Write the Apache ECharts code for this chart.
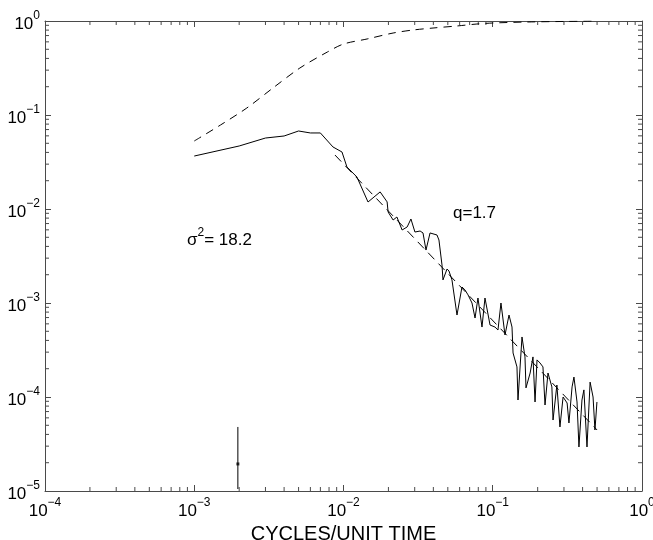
<!DOCTYPE html>
<html>
<head>
<meta charset="utf-8">
<script src="https://cdn.jsdelivr.net/npm/echarts@6/dist/echarts.min.js"></script>
<style>
  html, body { margin: 0; padding: 0; background: #fff; }
  #chart { width: 653px; height: 540px; }
</style>
</head>
<body>
<div id="chart"></div>
<script>
// tick label exponents (decades)
var xTickExp = [-4, -3, -2, -1, 0];
var yTickExp = [-5, -4, -3, -2, -1, 0];

// upper dashed curve (cumulative)
var cumFreq = [0.001, 0.0015, 0.00225, 0.00337, 0.0051, 0.0078, 0.01, 0.0144, 0.0215, 0.0292, 0.0398, 0.0575, 0.0783, 0.1, 0.17, 0.316, 0.5];
var cumVal  = [0.0529, 0.0783, 0.1187, 0.194, 0.316, 0.468, 0.569, 0.644, 0.745, 0.802, 0.842, 0.885, 0.929, 0.952, 0.976, 0.99, 1.0];

// spectrum (solid line)
var specFreq = [0.001, 0.002, 0.003, 0.004, 0.005, 0.006, 0.007, 0.0085, 0.00977, 0.01054, 0.0123, 0.0146, 0.0176, 0.0196, 0.0199,
  0.0215, 0.0228, 0.0247, 0.0267, 0.0283, 0.0301, 0.0326, 0.0341, 0.0357, 0.038, 0.0423, 0.0436, 0.0457, 0.0464, 0.0494,
  0.0509, 0.0533, 0.0576, 0.0622, 0.0651, 0.0683, 0.0726, 0.0761, 0.0796, 0.0847, 0.0887, 0.0959, 0.1035, 0.1084, 0.1135,
  0.1208, 0.1285, 0.1346, 0.1368, 0.1453, 0.1476, 0.157, 0.1644, 0.167, 0.178, 0.186, 0.192, 0.198, 0.2074, 0.217,
  0.224, 0.2345, 0.249, 0.2535, 0.269, 0.282, 0.296, 0.315, 0.324, 0.34, 0.35, 0.367, 0.378, 0.396, 0.408,
  0.428, 0.449, 0.47, 0.484, 0.499];
var specVal = [0.0366, 0.0468, 0.0569, 0.0598, 0.0676, 0.0644, 0.0644, 0.0457, 0.0404, 0.028, 0.0219, 0.01187, 0.0152, 0.0119, 0.00929,
  0.00764, 0.00822, 0.00598, 0.00644, 0.00783, 0.00569, 0.00583, 0.00556, 0.00366, 0.00556, 0.00529, 0.00468, 0.00254, 0.00176, 0.0023,
  0.00219, 0.00176, 0.000745, 0.00148, 0.00138, 0.00122, 0.001, 0.000692, 0.00113, 0.000555, 0.00113, 0.000583, 0.000555, 0.000516, 0.001,
  0.000457, 0.000745, 0.000555, 0.000294, 0.000209, 0.0000929, 0.000435, 0.000267, 0.000125, 0.00018, 0.000267, 0.0000885, 0.000248, 0.00023, 0.000209,
  0.0000822, 0.00018, 0.000128, 0.0000569, 0.000134, 0.000048, 0.0001, 0.0000863, 0.0000529, 0.000128, 0.000163, 0.0000885, 0.0000294, 0.0000929, 0.000119,
  0.0000294, 0.000144, 0.0001, 0.0000446, 0.0000885];

// power-law fit, q = 1.7 (end points)
var fitFreq = [0.00877, 0.5];
var fitVal  = [0.0375, 0.0000446];

// error bar
var errFreq = 0.00196;
var errLow = 1.05e-5, errMid = 1.94e-5, errHigh = 4.8e-5;

function zip(a, b) {
  var out = [];
  for (var i = 0; i < a.length; i++) out.push([a[i], b[i]]);
  return out;
}

// minor tick positions 2..9 x 10^k
var minorX = [], minorY = [];
for (var k = -4; k < 0; k++) for (var m = 2; m <= 9; m++) minorX.push([m * Math.pow(10, k), 1e-5]);
for (var k2 = -5; k2 < 0; k2++) for (var m2 = 2; m2 <= 9; m2++) minorY.push([1e-4, m2 * Math.pow(10, k2)]);

var FONT = '"Liberation Sans", Arial, Helvetica, sans-serif';
var AXIS_COLOR = '#4a4a4a';

function expLabel(v) {
  var e = Math.round(Math.log(v) / Math.LN10);
  return '{b|10}{s|' + (e < 0 ? '\u2212' + (-e) : e) + '}';
}
var richLabel = {
  b: { fontSize: 17, fontFamily: FONT, color: '#000', lineHeight: 23, verticalAlign: 'bottom' },
  s: { fontSize: 12, fontFamily: FONT, color: '#000', lineHeight: 23, verticalAlign: 'top' }
};

var chart = echarts.init(document.getElementById('chart'));

var option = {
  animation: false,
  backgroundColor: '#fff',
  grid: { left: 45, right: 11, top: 21, bottom: 49, containLabel: false, outerBoundsMode: 'none' },
  xAxis: [
    {
      type: 'log', logBase: 10, min: 1e-4, max: 1,
      position: 'bottom',
      name: 'CYCLES/UNIT TIME',
      nameLocation: 'middle',
      nameGap: 26,
      nameTextStyle: { fontSize: 20, fontFamily: FONT, color: '#000', verticalAlign: 'top' },
      axisLine: { show: true, lineStyle: { color: AXIS_COLOR, width: 1 } },
      axisTick: { show: true, inside: true, length: 6, lineStyle: { color: AXIS_COLOR } },
      axisLabel: {
        margin: 6,
        formatter: function (v) {
          var e = Math.round(Math.log(v) / Math.LN10);
          return xTickExp.indexOf(e) >= 0 ? expLabel(v) : '';
        },
        rich: richLabel
      },
      splitLine: { show: false }
    },
    {
      type: 'log', logBase: 10, min: 1e-4, max: 1,
      position: 'top',
      axisLine: { show: true, lineStyle: { color: AXIS_COLOR, width: 1 } },
      axisTick: { show: true, inside: true, length: 6, lineStyle: { color: AXIS_COLOR } },
      axisLabel: { show: false },
      splitLine: { show: false }
    }
  ],
  yAxis: [
    {
      type: 'log', logBase: 10, min: 1e-5, max: 1,
      position: 'left',
      axisLine: { show: true, lineStyle: { color: AXIS_COLOR, width: 1 } },
      axisTick: { show: true, inside: true, length: 6, lineStyle: { color: AXIS_COLOR } },
      axisLabel: {
        margin: 5,
        align: 'right',
        formatter: function (v) {
          var e = Math.round(Math.log(v) / Math.LN10);
          return yTickExp.indexOf(e) >= 0 ? expLabel(v) : '';
        },
        rich: richLabel
      },
      splitLine: { show: false }
    },
    {
      type: 'log', logBase: 10, min: 1e-5, max: 1,
      position: 'right',
      axisLine: { show: true, lineStyle: { color: AXIS_COLOR, width: 1 } },
      axisTick: { show: true, inside: true, length: 6, lineStyle: { color: AXIS_COLOR } },
      axisLabel: { show: false },
      splitLine: { show: false }
    }
  ],
  graphic: [
    {
      type: 'text', left: 187, top: 227, silent: true,
      style: {
        text: '{a|\u03c3}{s|2}{a|= 18.2}',
        rich: {
          a: { fontSize: 17, fontFamily: FONT, fill: '#000', lineHeight: 22, verticalAlign: 'bottom' },
          s: { fontSize: 12, fontFamily: FONT, fill: '#000', lineHeight: 22, verticalAlign: 'top' }
        }
      }
    },
    {
      type: 'text', left: 453, top: 205, silent: true,
      style: { text: 'q=1.7', fontSize: 17, fontFamily: FONT, fill: '#000' }
    }
  ],
  series: [
    {
      name: 'cumulative', type: 'line', data: zip(cumFreq, cumVal),
      symbol: 'none', smooth: 0.3,
      lineStyle: { color: '#000', width: 1, type: [8, 6] }
    },
    {
      name: 'spectrum', type: 'line', data: zip(specFreq, specVal),
      symbol: 'none',
      lineStyle: { color: '#000', width: 1 }
    },
    {
      name: 'fit', type: 'line', data: zip(fitFreq, fitVal),
      symbol: 'none',
      lineStyle: { color: '#000', width: 1, type: [9, 6] }
    },
    {
      name: 'errorbar', type: 'line', data: [[errFreq, errLow], [errFreq, errHigh]],
      symbol: 'none',
      lineStyle: { color: '#000', width: 1 }
    },
    {
      name: 'errmid', type: 'scatter', data: [[errFreq, errMid]],
      symbol: 'rect', symbolSize: 3,
      itemStyle: { color: '#000' }
    },
    {
      name: 'minorX', type: 'custom', data: minorX, silent: true, clip: false,
      renderItem: function (params, api) {
        var p = api.coord([api.value(0), 1e-5]);
        var q = api.coord([api.value(0), 1]);
        var st = { stroke: AXIS_COLOR, lineWidth: 1 };
        return {
          type: 'group', children: [
            { type: 'line', shape: { x1: p[0], y1: p[1], x2: p[0], y2: p[1] - 4 }, style: st },
            { type: 'line', shape: { x1: q[0], y1: q[1], x2: q[0], y2: q[1] + 4 }, style: st }
          ]
        };
      }
    },
    {
      name: 'minorY', type: 'custom', data: minorY, silent: true, clip: false,
      renderItem: function (params, api) {
        var p = api.coord([1e-4, api.value(1)]);
        var q = api.coord([1, api.value(1)]);
        var st = { stroke: AXIS_COLOR, lineWidth: 1 };
        return {
          type: 'group', children: [
            { type: 'line', shape: { x1: p[0], y1: p[1], x2: p[0] + 4, y2: p[1] }, style: st },
            { type: 'line', shape: { x1: q[0], y1: q[1], x2: q[0] - 4, y2: q[1] }, style: st }
          ]
        };
      }
    }
  ]
};

chart.setOption(option);
</script>
</body>
</html>
